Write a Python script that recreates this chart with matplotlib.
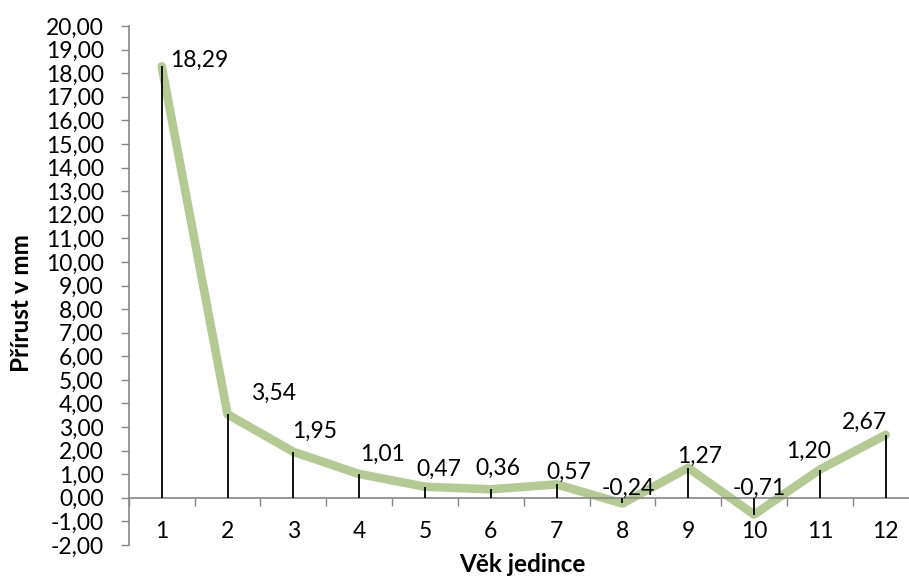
import numpy as np
import matplotlib
matplotlib.use("Agg")
import matplotlib.pyplot as plt

plt.rcParams['font.family'] = ['Lato', 'DejaVu Sans']

# data
vek = [1, 2, 3, 4, 5, 6, 7, 8, 9, 10, 11, 12]
prirust = [18.29, 3.54, 1.95, 1.01, 0.47, 0.36, 0.57, -0.24, 1.27, -0.71, 1.20, 2.67]

# label offsets in pixels (right, up) as placed in the original
lab_dx = [38, 46, 21, 23, 14, 7, 12, 6, 11, 5, -11, -21]
lab_dy = [-1, 14, 14, 13, 11, 14, 6, 9, 5, 20, 12, 6]

green = '#b3cb92'
grey = '#868686'
fs = 16.5

fig = plt.figure(figsize=(9.09, 5.79), dpi=100)
ax = fig.add_axes([128.8 / 909, 34 / 579, 789.8 / 909, 519 / 579])

ax.plot(vek, prirust, color=green, lw=6.2, solid_capstyle='round',
        solid_joinstyle='round', zorder=2)
ax.vlines(vek, 0, prirust, color='black', lw=1.3, zorder=3)

for x, y, dx, dy in zip(vek, prirust, lab_dx, lab_dy):
    ax.annotate(f"{y:.2f}".replace('.', ','), (x, y),
                xytext=(dx * 0.72, dy * 0.72), textcoords='offset points',
                ha='center', va='baseline', fontsize=fs, zorder=4)

ax.set_xlim(0.5, 12.5)
ax.set_ylim(-2, 20)
ax.set_yticks(np.arange(-2, 21, 1))
ax.set_yticklabels([f"{v:.2f}".replace('.', ',') for v in np.arange(-2, 21, 1)])

ax.set_xticks(vek)
ax.set_xticklabels([str(v) for v in vek])
ax.set_xticks(np.arange(0.5, 13, 1), minor=True)
ax.tick_params(axis='x', which='major', length=0, pad=17, labelsize=fs)
ax.tick_params(axis='x', which='minor', length=6, width=1, color=grey, direction='out')
ax.tick_params(axis='y', length=6, width=1, color=grey, direction='out',
               pad=12, labelsize=fs)

ax.spines['top'].set_visible(False)
ax.spines['right'].set_visible(False)
ax.spines['bottom'].set_position(('data', 0))
for s in ['left', 'bottom']:
    ax.spines[s].set_color(grey)
    ax.spines[s].set_linewidth(1.2)

fig.text(522 / 909, 1 - 565 / 579, 'Věk jedince', ha='center', va='center',
         fontsize=17.5, fontweight='bold')
fig.text(22 / 909, 1 - 303 / 579, 'Přírust v mm', ha='center', va='center',
         rotation=90, fontsize=17.5, fontweight='bold')

fig.savefig('out.png', dpi=100)
